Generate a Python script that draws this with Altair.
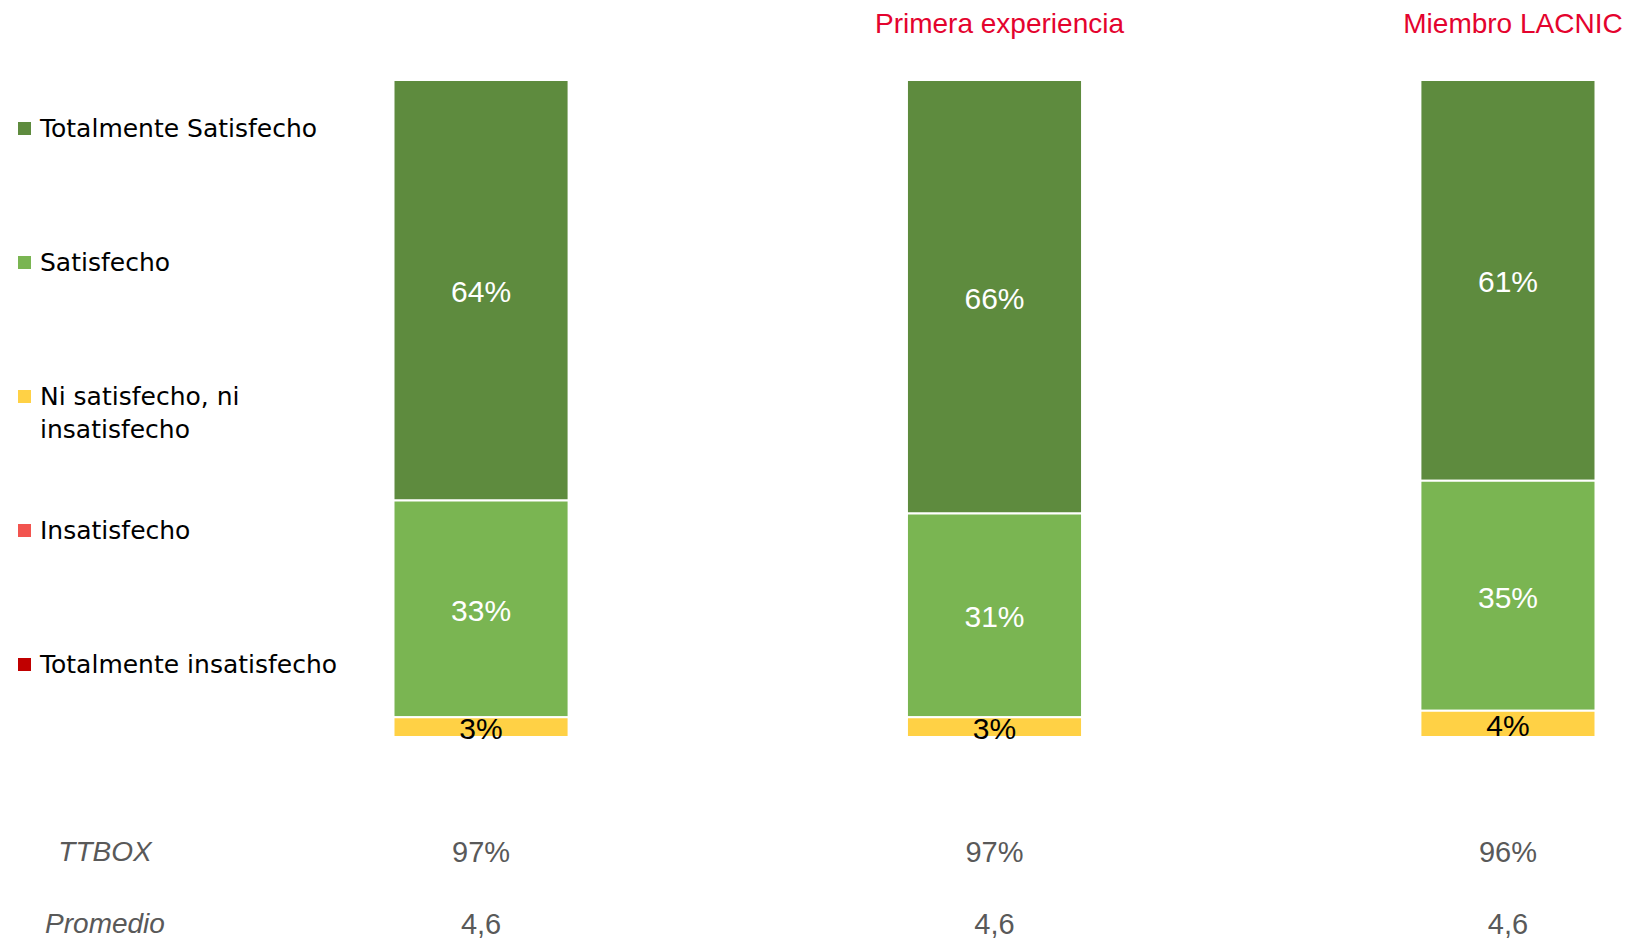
import altair as alt
import pandas as pd

# ---- data ----
grupos = ["Total", "Primera experiencia", "Miembro LACNIC"]
encabezados = ["", "Primera experiencia", "Miembro LACNIC"]
niveles = ["Totalmente Satisfecho", "Satisfecho", "Ni satisfecho, ni insatisfecho",
           "Insatisfecho", "Totalmente insatisfecho"]
colores = ["#5E8B3E", "#7AB552", "#FFD145", "#F2544F", "#C00000"]

totalmente_satisfecho = [64, 66, 61]
satisfecho = [33, 31, 35]
ni_ni = [3, 3, 4]
insatisfecho = [0, 0, 0]
totalmente_insatisfecho = [0, 0, 0]

filas = ["TTBOX", "Promedio"]
ttbox = ["97%", "97%", "96%"]
promedio = ["4,6", "4,6", "4,6"]

series = [totalmente_satisfecho, satisfecho, ni_ni, insatisfecho, totalmente_insatisfecho]
rows = []
for nivel, vals in zip(niveles, series):
    for g, v in zip(grupos, vals):
        rows.append({"grupo": g, "nivel": nivel, "valor": v,
                     "orden": len(niveles) - niveles.index(nivel)})
df = pd.DataFrame(rows)

df_head = pd.DataFrame({"grupo": grupos, "encabezado": encabezados})
tab = []
for fila, vals in zip(filas, [ttbox, promedio]):
    for g, v in zip(grupos, vals):
        tab.append({"grupo": g, "fila": fila, "texto": v})
df_tab = pd.DataFrame(tab)
df_filas = pd.DataFrame({"fila": filas})

FONT = "Liberation Sans"

x_enc = alt.X("grupo:N", sort=grupos, axis=None,
              scale=alt.Scale(paddingInner=0.659, paddingOuter=0.0555))

base = (alt.Chart(df)
        .transform_filter(alt.datum.valor > 0)
        .transform_stack(stack="valor", groupby=["grupo"], as_=["y0", "y1"],
                         sort=[alt.SortField("orden", order="ascending")])
        .transform_calculate(mid="(datum.y0 + datum.y1) / 2",
                             lbl="datum.valor + '%'"))

y_scale = alt.Scale(domain=[0, 100], nice=False, zero=True)

bars = base.mark_bar(stroke="white", strokeWidth=2).encode(
    x=x_enc,
    y=alt.Y("y0:Q", scale=y_scale, axis=None),
    y2="y1:Q",
    color=alt.Color("nivel:N", scale=alt.Scale(domain=niveles, range=colores),
                    legend=alt.Legend(
                        title=None, orient="none", legendX=-353, legendY=36,
                        symbolType="square", symbolSize=169, symbolStrokeWidth=0,
                        labelFontSize=25, labelFont="DejaVu Sans", labelColor="#000000",
                        labelLimit=600, rowPadding=75, gridAlign="all", labelOffset=3,
                        labelExpr="datum.label == 'Ni satisfecho, ni insatisfecho' ? ['Ni satisfecho, ni', 'insatisfecho'] : datum.label")),
)

labels = base.mark_text(font=FONT, fontSize=30, baseline="middle", align="center",
                        dy=3).encode(
    x=x_enc,
    y=alt.Y("mid:Q", scale=y_scale, axis=None),
    text="lbl:N",
    color=alt.condition(alt.datum.nivel == "Ni satisfecho, ni insatisfecho",
                        alt.value("#000000"), alt.value("#FFFFFF")),
)

heads = alt.Chart(df_head).mark_text(font=FONT, fontSize=28, color="#E4032E",
                                     baseline="middle", align="center", dx=5).encode(
    x=x_enc, y=alt.value(-55), text="encabezado:N")

row_scale = alt.Scale(domain=filas, range=[773, 845], padding=0)
table = alt.Chart(df_tab).mark_text(font=FONT, fontSize=29, color="#595959",
                                    baseline="middle", align="center").encode(
    x=x_enc, y=alt.Y("fila:N", scale=row_scale, axis=None), text="texto:N")

row_labels = alt.Chart(df_filas).mark_text(font=FONT, fontSize=28, fontStyle="italic",
                                           color="#595959", baseline="middle",
                                           align="center").encode(
    x=alt.value(-260), y=alt.Y("fila:N", scale=row_scale, axis=None), text="fila:N")

chart = (alt.layer(bars, labels, heads, table, row_labels)
         .resolve_scale(y="independent")
         .properties(width=1259, height=657,
                     autosize=alt.AutoSizeParams(type="none"),
                     padding={"left": 357, "top": 72, "right": 0, "bottom": 205})
         .configure(style={"guide-label": {"lineHeight": 33}})
         .configure_view(stroke=None))

chart.save("out.html", embed_options={"renderer": "svg", "actions": False})
